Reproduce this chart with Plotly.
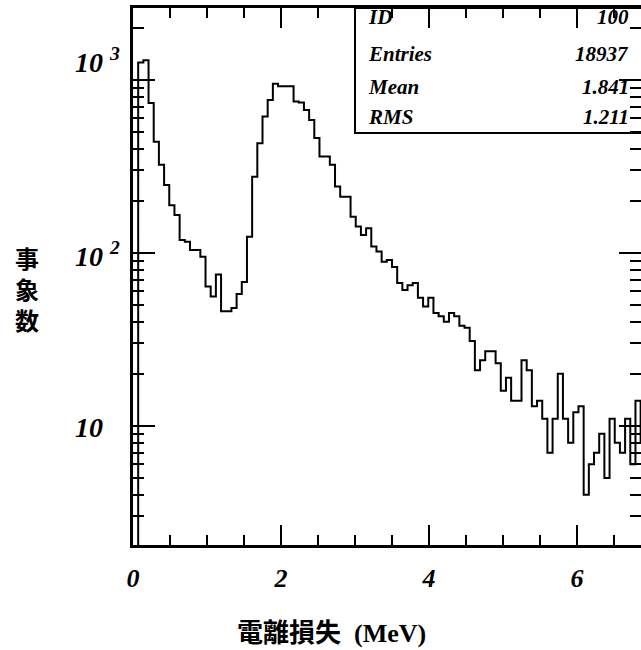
import math
import plotly.graph_objects as go

# ---------------- data ----------------
BIN_W = 0.07  # MeV per bin
counts = [
    1, 1260, 1300, 736, 440, 323, 247, 189, 166, 119,
    116, 104, 104, 95, 64, 56, 75, 46, 46, 48,
    58, 68, 124, 276, 430, 614, 766, 950, 920, 920,
    920, 750, 740, 670, 587, 462, 361, 361, 323, 242,
    211, 211, 162, 142, 127, 139, 109, 102, 89, 91,
    83, 67, 61, 65, 67, 55, 49, 55, 45, 43,
    40, 45, 43, 38, 37, 31, 21, 24, 27, 27,
    23, 16, 19, 14, 14, 24, 21, 13, 14, 11,
    7, 11, 20, 11, 8, 12, 13, 4, 6, 7,
    9, 5, 11, 8, 7, 11, 6, 14, 8, 6,
]
x_major = [0, 2, 4, 6]
x_major_text = ["0", "2", "4", "6"]
x_minor = [0.5, 1, 1.5, 2.5, 3, 3.5, 4.5, 5, 5.5, 6.5]
y_major = [10, 100, 1000]
y_major_text = ["10", "10 <sup>2</sup>", "10 <sup>3</sup>"]
y_minor = [3, 4, 5, 6, 7, 8, 9, 20, 30, 40, 50, 60, 70, 80, 90,
           200, 300, 400, 500, 600, 700, 800, 900, 2000]
stat_names = ["ID", "Entries", "Mean", "RMS"]
stat_values = ["100", "18937", "1.841", "1.211"]
x_title = "電離損失"
x_unit = "(MeV)"
y_title = ["事", "象", "数"]

# ---------------- layout constants ----------------
W, H = 641, 650
L, R, T, B = 133, 0, 8, 105
PW, PH = W - L - R, H - T - B
X_RANGE = [0, PW / 74.0]
Y_RANGE = [math.log10(2.05), 3.416]

def px_x(px):
    return (px - L) / PW

def px_y(py):
    return (H - B - py) / PH

edges = [i * BIN_W for i in range(len(counts) + 1)]
yvals = counts + [counts[-1]]

fig = go.Figure()
fig.add_trace(go.Scatter(
    x=edges, y=yvals, mode="lines", line_shape="hv",
    line=dict(color="black", width=2), showlegend=False, hoverinfo="skip",
))
# dummy trace for right-hand tick axis
fig.add_trace(go.Scatter(x=[None], y=[None], yaxis="y2", showlegend=False,
                         hoverinfo="skip"))

serif_bi = dict(family="Liberation Serif", color="black", weight="bold", style="italic")

fig.update_layout(
    width=W, height=H,
    margin=dict(l=L, r=R, t=T, b=B),
    plot_bgcolor="white", paper_bgcolor="white",
    xaxis=dict(
        range=X_RANGE, showgrid=False, zeroline=False,
        showline=True, linecolor="black", linewidth=2.5, mirror="ticks",
        ticks="inside", ticklen=20, tickwidth=2, tickcolor="black",
        tickmode="array", tickvals=x_major, ticktext=x_major_text,
        tickfont=dict(size=26, **serif_bi), ticklabelstandoff=8,
        minor=dict(tickmode="array", tickvals=x_minor, ticks="inside",
                   ticklen=10, tickwidth=2, tickcolor="black", showgrid=False),
    ),
    yaxis=dict(
        type="log", range=Y_RANGE, showgrid=False, zeroline=False,
        showline=True, linecolor="black", linewidth=2.5,
        ticks="inside", ticklen=22, tickwidth=2, tickcolor="black",
        tickmode="array", tickvals=y_major, showticklabels=False,
        minor=dict(tickmode="array", tickvals=y_minor, ticks="inside",
                   ticklen=11, tickwidth=2, tickcolor="black", showgrid=False),
    ),
    yaxis2=dict(
        type="log", range=Y_RANGE, overlaying="y", side="right",
        showgrid=False, zeroline=False, showline=False,
        ticks="inside", ticklen=22, tickwidth=2, tickcolor="black",
        tickmode="array", tickvals=y_major, showticklabels=False,
        minor=dict(tickmode="array", tickvals=y_minor, ticks="inside",
                   ticklen=11, tickwidth=2, tickcolor="black", showgrid=False),
    ),
)

# y tick labels
label_shift = [-2, -2, 19]
for v, t, s in zip(y_major, y_major_text, label_shift):
    fig.add_annotation(
        x=px_x(73), xref="paper", y=math.log10(v), yref="y",
        text=t, showarrow=False, xanchor="left", yanchor="middle", yshift=s,
        font=dict(size=28, **serif_bi),
    )

# y title (vertical stacked, one character per annotation)
for ch, cy in zip(y_title, [257, 288, 319]):
    fig.add_annotation(
        x=px_x(27), xref="paper", y=px_y(cy), yref="paper",
        text="<b>" + ch + "</b>", showarrow=False,
        xanchor="center", yanchor="middle", height=28,
        font=dict(family="Noto Sans CJK JP", size=24, color="black"),
    )

# x title
fig.add_annotation(
    x=px_x(331), xref="paper", y=px_y(630), yref="paper",
    text="<b>" + x_title + "</b><span style='font-family:Liberation Serif'><b>  " + x_unit + "</b></span>",
    showarrow=False, xanchor="center", yanchor="middle",
    font=dict(family="Noto Sans CJK JP", size=26, color="black"),
)

# stats box
fig.add_shape(type="rect", xref="paper", yref="paper",
              x0=px_x(355), x1=1.05, y0=px_y(133), y1=1.0,
              line=dict(color="black", width=2), fillcolor="rgba(0,0,0,0)")
row_y = [17, 54, 87, 117]
for name, val, ry in zip(stat_names, stat_values, row_y):
    fig.add_annotation(x=px_x(366), xref="paper", y=px_y(ry), yref="paper",
                       text=name, showarrow=False, xanchor="left", yanchor="middle",
                       font=dict(size=21, **serif_bi))
    fig.add_annotation(x=px_x(631), xref="paper", y=px_y(ry), yref="paper",
                       text=val, showarrow=False, xanchor="right", yanchor="middle",
                       font=dict(size=21, **serif_bi))

fig.write_html("out.html")
